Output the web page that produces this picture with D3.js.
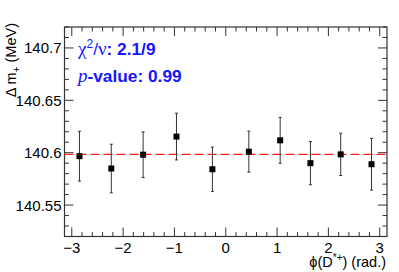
<!DOCTYPE html>
<html>
<head>
<meta charset="utf-8">
<script src="https://cdn.jsdelivr.net/npm/d3@7"></script>
<style>
  body { margin: 0; background: #fff; }
  svg { display: block; }
</style>
</head>
<body>
<div id="chart"></div>
<script>
// values
var phi = [-2.85, -2.23, -1.61, -0.96, -0.26, 0.45, 1.06, 1.65, 2.24, 2.84];
var deltaM = [140.5967, 140.5849, 140.5981, 140.6154, 140.5842, 140.6010, 140.6118, 140.5900, 140.5984, 140.5890];
var deltaErr = [0.0238, 0.0232, 0.0218, 0.0223, 0.0212, 0.0196, 0.0219, 0.0206, 0.0202, 0.0247];
var fitValue = 140.5984;
var xTicks = [-3, -2, -1, 0, 1, 2, 3];
var yTicks = [140.55, 140.6, 140.65, 140.7];

var svgWidth = 399;
var svgHeight = 272;
var margin = { top: 27, right: 12, bottom: 35.5, left: 64.5 };
var width = svgWidth - margin.left - margin.right;
var height = svgHeight - margin.top - margin.bottom;

var svg = d3.select("#chart")
  .append("svg")
  .attr("width", svgWidth)
  .attr("height", svgHeight);

var g = svg.append("g")
  .attr("transform", `translate(${margin.left}, ${margin.top})`);

var x = d3.scaleLinear().domain([-Math.PI, Math.PI]).range([0, width]);
var y = d3.scaleLinear().domain([140.52, 140.72]).range([height, 0]);

var majorLen = 9, minorLen = 4.5;
var font = "'Liberation Sans', Arial, sans-serif";

// ticks, ROOT style: inside the frame, on all four sides
var xMinor = d3.range(-3.2, 3.21, 0.2).filter(v => v >= -Math.PI && v <= Math.PI);
var yMinor = d3.range(140.52, 140.7201, 0.01);

function tickLines(sel, vals, len, horiz) {
  vals.forEach(v => {
    if (horiz) {
      var px = x(v);
      sel.append("line").attr("x1", px).attr("x2", px).attr("y1", height).attr("y2", height - len);
      sel.append("line").attr("x1", px).attr("x2", px).attr("y1", 0).attr("y2", len);
    } else {
      var py = y(v);
      sel.append("line").attr("x1", 0).attr("x2", len).attr("y1", py).attr("y2", py);
      sel.append("line").attr("x1", width).attr("x2", width - len).attr("y1", py).attr("y2", py);
    }
  });
}

var ticks = g.append("g").attr("stroke", "#333").attr("stroke-width", 1);
tickLines(ticks, xMinor.filter(v => Math.abs(v - Math.round(v)) > 1e-6), minorLen, true);
tickLines(ticks, xTicks, majorLen, true);
tickLines(ticks, yMinor.filter(v => yTicks.every(t => Math.abs(t - v) > 1e-6)), minorLen, false);
tickLines(ticks, yTicks, majorLen, false);

// frame
g.append("rect")
  .attr("width", width).attr("height", height)
  .attr("fill", "none").attr("stroke", "#333").attr("stroke-width", 1.2);

// tick labels
g.selectAll(".xl").data(xTicks).enter().append("text")
  .attr("x", d => x(d)).attr("y", height + 16)
  .attr("text-anchor", "middle")
  .style("font-family", font).style("font-size", "15px")
  .text(d => d < 0 ? "\u2212" + Math.abs(d) : d);

g.selectAll(".yl").data(yTicks).enter().append("text")
  .attr("x", -3).attr("y", d => y(d) + 5.5)
  .attr("text-anchor", "end")
  .style("font-family", font).style("font-size", "15px")
  .text(d => d3.format(".2~f")(d));

// fit line
g.append("line")
  .attr("x1", 0).attr("x2", width)
  .attr("y1", y(fitValue)).attr("y2", y(fitValue))
  .attr("stroke", "#ff1a1a").attr("stroke-width", 1.4)
  .attr("stroke-dasharray", "9,4");

// error bars
var pts = phi.map((p, i) => ({ x: p, y: deltaM[i], e: deltaErr[i] }));
var eb = g.append("g").attr("stroke", "#333").attr("stroke-width", 1);
eb.selectAll(".bar").data(pts).enter().append("line")
  .attr("x1", d => x(d.x)).attr("x2", d => x(d.x))
  .attr("y1", d => y(d.y - d.e)).attr("y2", d => y(d.y + d.e));
eb.selectAll(".capT").data(pts).enter().append("line")
  .attr("x1", d => x(d.x) - 1.5).attr("x2", d => x(d.x) + 1.5)
  .attr("y1", d => y(d.y + d.e)).attr("y2", d => y(d.y + d.e));
eb.selectAll(".capB").data(pts).enter().append("line")
  .attr("x1", d => x(d.x) - 1.5).attr("x2", d => x(d.x) + 1.5)
  .attr("y1", d => y(d.y - d.e)).attr("y2", d => y(d.y - d.e));

// markers
g.selectAll(".pt").data(pts).enter().append("rect")
  .attr("x", d => x(d.x) - 3).attr("y", d => y(d.y) - 3)
  .attr("width", 6).attr("height", 6)
  .attr("fill", "#000");

// fit quality text
var serif = "'Liberation Serif', serif";
var t1 = svg.append("text").attr("x", 78).attr("y", 55)
  .attr("fill", "#1515ff").style("font-family", font).style("font-size", "17.3px").style("font-weight", "bold");
t1.append("tspan").style("font-family", serif).style("font-weight", "normal").style("font-size", "19px").text("\u03c7");
t1.append("tspan").attr("dy", -7).style("font-size", "12px").style("font-weight", "normal").text("2");
t1.append("tspan").attr("dy", 7).style("font-weight", "normal").text("/");
t1.append("tspan").style("font-family", serif).style("font-weight", "normal").style("font-size", "19px").text("\u03bd");
t1.append("tspan").text(": 2.1/9");

var t2 = svg.append("text").attr("x", 78).attr("y", 81.5)
  .attr("fill", "#1515ff").style("font-family", font).style("font-size", "17.3px").style("font-weight", "bold");
t2.append("tspan").style("font-family", serif).style("font-style", "italic").style("font-weight", "normal").style("font-size", "19px").text("p");
t2.append("tspan").text("-value: 0.99");

// axis titles
var yt = svg.append("text")
  .attr("transform", "translate(15.5, 23) rotate(-90)")
  .attr("text-anchor", "end")
  .style("font-family", font).style("font-size", "14.5px");
yt.append("tspan").text("\u0394 m");
yt.append("tspan").attr("dy", 4).style("font-size", "10px").text("+");
yt.append("tspan").attr("dy", -4).text(" (MeV)");

var xt = svg.append("text")
  .attr("x", 386).attr("y", 267)
  .attr("text-anchor", "end")
  .style("font-family", font).style("font-size", "14.5px");
xt.append("tspan").text("\u03d5(D");
xt.append("tspan").attr("dy", -6).style("font-size", "10px").text("*+");
xt.append("tspan").attr("dy", 6).text(") (rad.)");
</script>
</body>
</html>
